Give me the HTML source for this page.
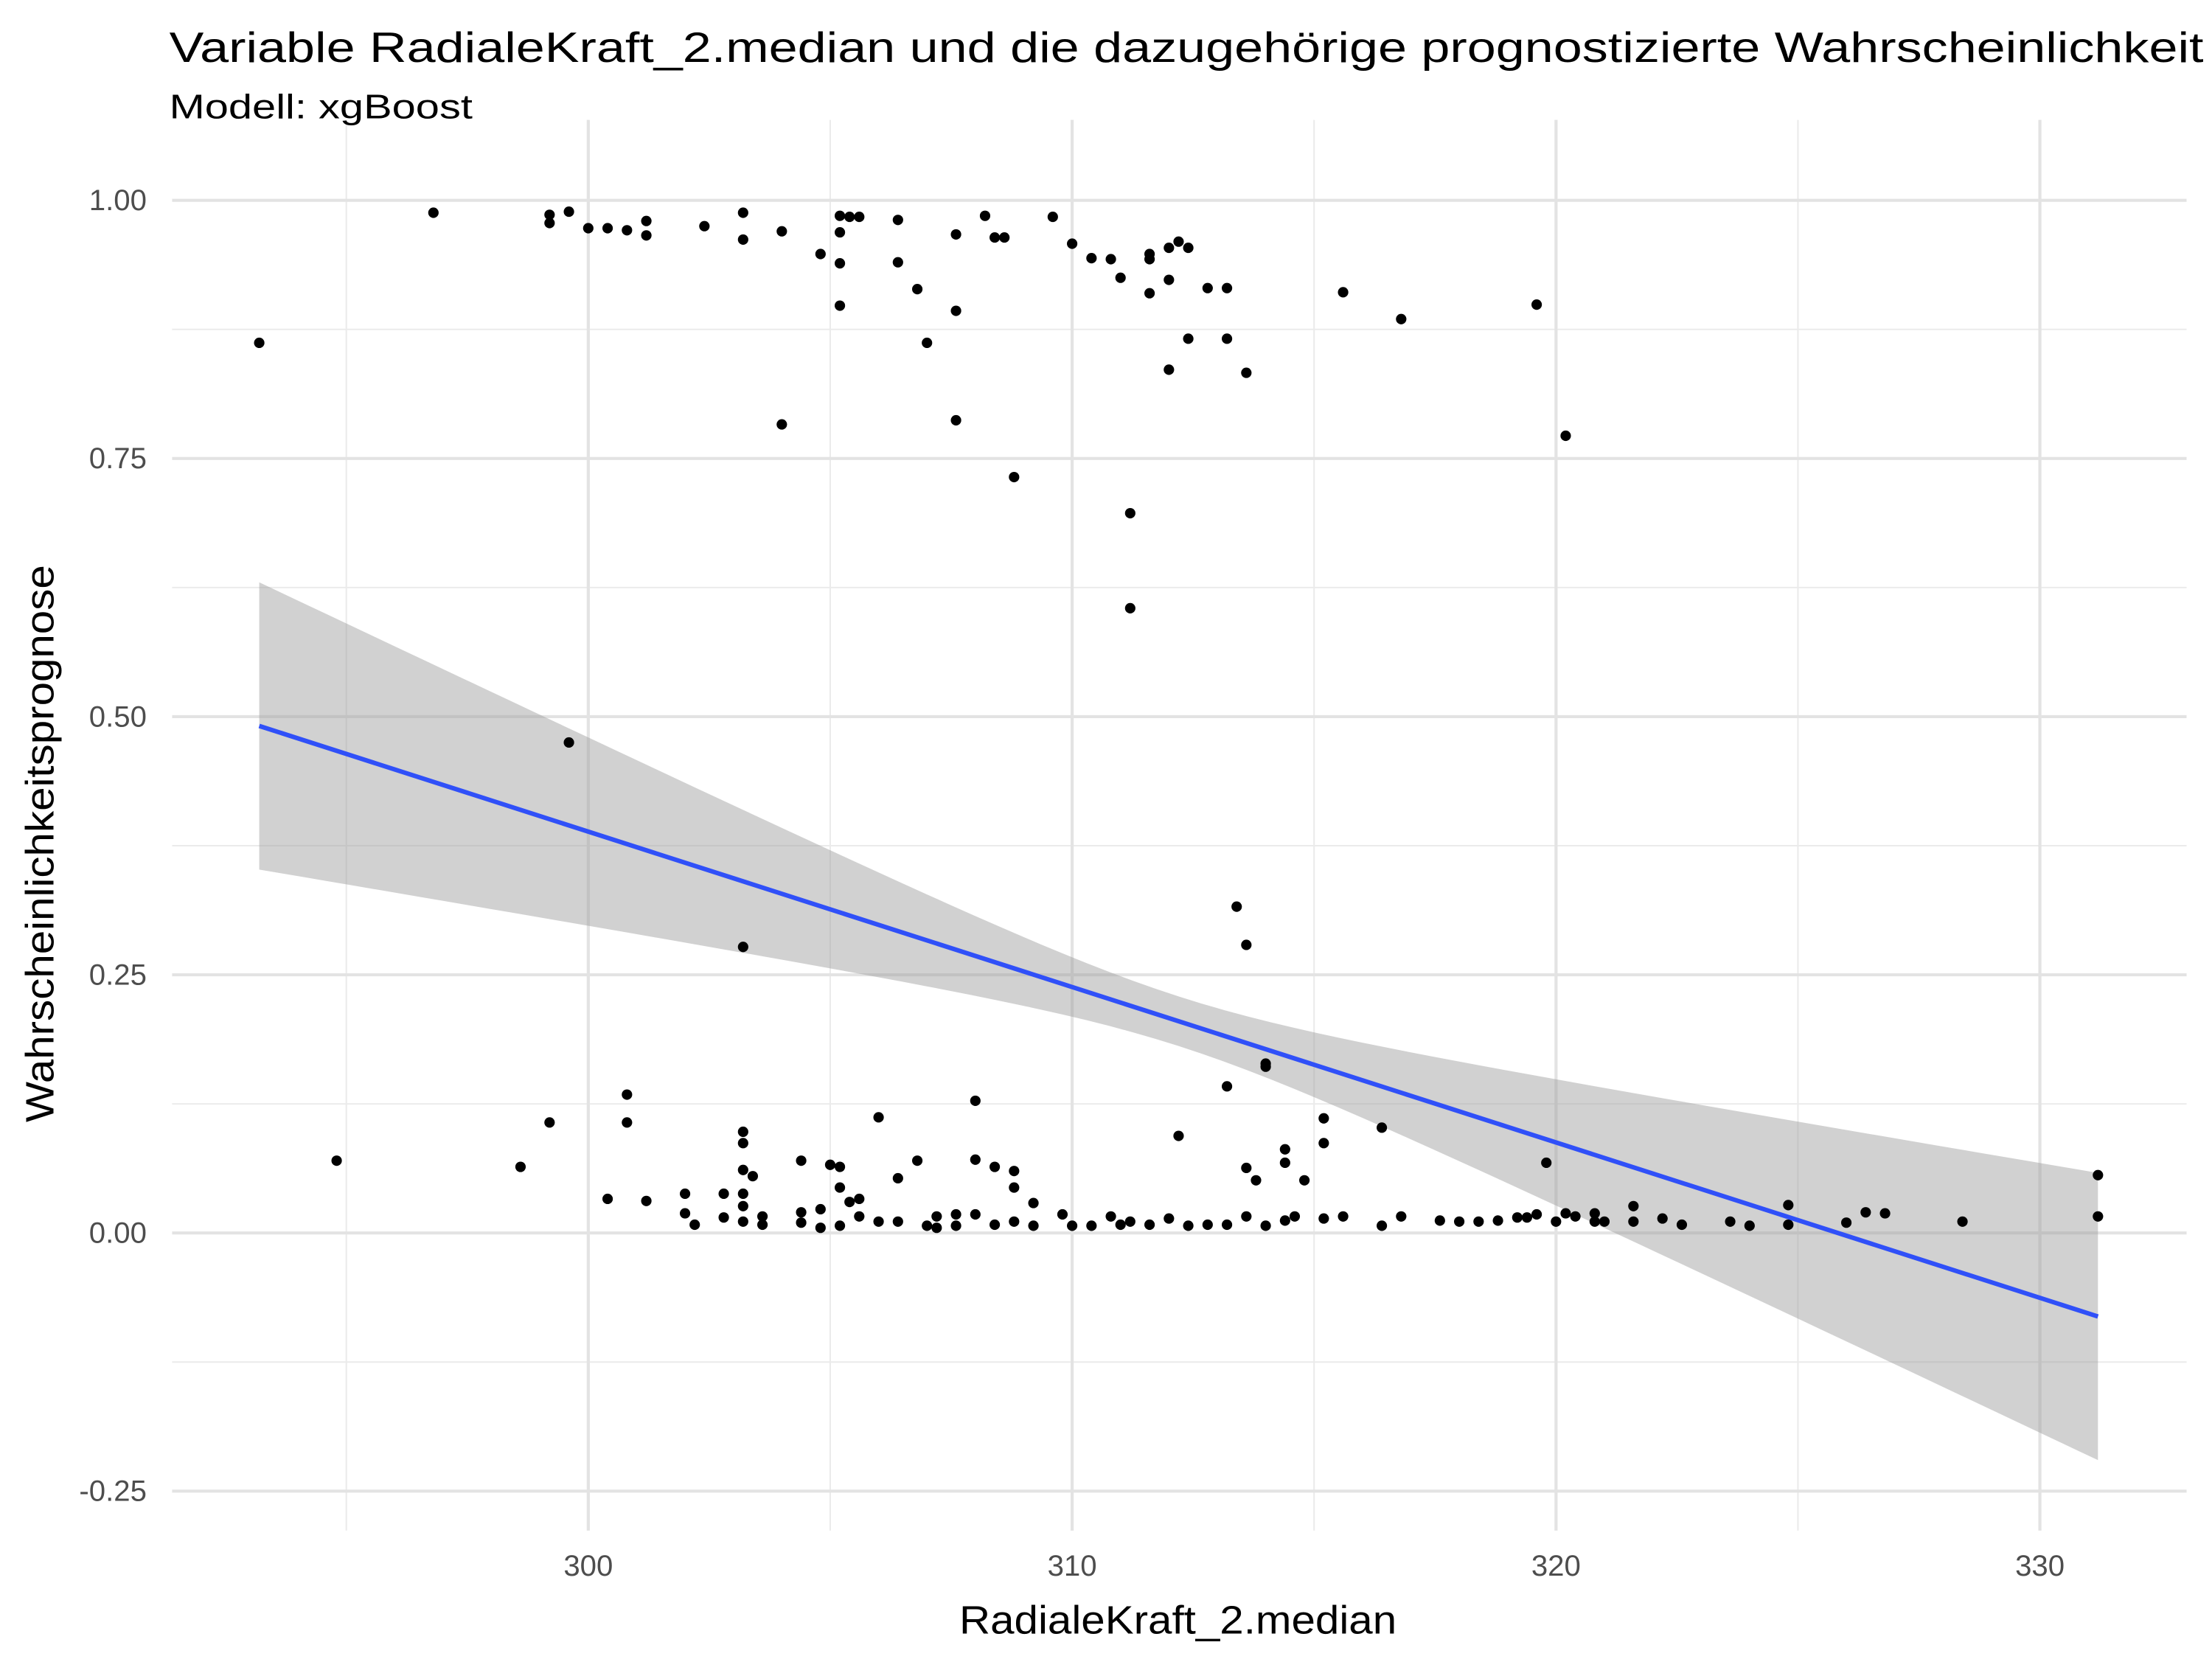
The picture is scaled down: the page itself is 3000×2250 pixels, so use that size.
<!DOCTYPE html>
<html><head><meta charset="utf-8"><style>
html,body{margin:0;padding:0;background:#fff}
svg{display:block;font-family:"Liberation Sans",sans-serif}
</style></head><body>
<svg id="chart" width="3000" height="2250" viewBox="0 0 1568 1176" xmlns="http://www.w3.org/2000/svg">
<rect width="1568" height="1176" fill="#fff"/>
<g id="grid"></g>
<g id="band"></g>
<g id="pts"></g>
<g id="axes"></g>
<text x="120" y="44" font-size="30" textLength="1442" lengthAdjust="spacingAndGlyphs" fill="#000">Variable RadialeKraft_2.median und die dazugehörige prognostizierte Wahrscheinlichkeit</text>
<text x="120" y="84" font-size="24" textLength="215" lengthAdjust="spacingAndGlyphs" fill="#000">Modell: xgBoost</text>
<text x="835" y="1158" font-size="28" textLength="310" lengthAdjust="spacingAndGlyphs" text-anchor="middle" fill="#000">RadialeKraft_2.median</text>
<text transform="translate(38,598) rotate(-90)" font-size="28" textLength="395" lengthAdjust="spacingAndGlyphs" text-anchor="middle" fill="#000">Wahrscheinlichkeitsprognose</text>
</svg>
<script>
const xTicks=[300,310,320,330];
const xMinor=[295,305,315,325];
const yTicks=[-0.25,0,0.25,0.5,0.75,1.0];
const yTickLabels=["-0.25","0.00","0.25","0.50","0.75","1.00"];
const yMinor=[-0.125,0.125,0.375,0.625,0.875];
const xVals=[293.2,296.8,299.2,299.2,299.6,300.0,300.4,300.8,301.2,301.2,302.4,303.2,303.2,304.0,304.8,305.2,305.2,305.2,305.2,305.4,305.6,306.4,306.4,306.8,307.0,307.6,307.6,307.6,308.2,308.4,308.6,308.8,309.6,310.0,310.4,310.8,311.0,311.2,311.2,311.6,311.6,311.6,312.0,312.0,312.0,312.2,312.4,312.4,312.8,313.2,313.2,313.6,315.6,316.8,319.6,320.2,304.0,
299.6,303.2,313.4,313.6,313.2,314.0,314.0,
294.8,298.6,299.2,300.4,300.8,300.8,301.2,302.0,302.0,302.2,302.8,302.8,303.2,303.2,303.2,303.2,303.2,303.2,303.4,303.6,303.6,304.4,304.4,304.4,304.8,304.8,305.0,305.2,305.2,305.2,305.4,305.6,305.6,306.0,306.0,306.4,306.4,306.8,307.0,307.2,307.2,307.6,307.6,308.0,308.0,308.0,308.4,308.8,308.8,308.4,308.8,309.2,309.2,309.8,310.0,310.4,310.8,311.0,311.2,311.6,312.0,312.2,312.4,312.8,313.2,313.6,313.6,313.8,314.0,314.4,314.4,314.4,314.6,314.8,315.2,315.2,315.2,315.6,316.4,316.4,316.8,317.6,318.0,318.4,318.8,319.2,319.4,319.6,319.8,320.0,320.2,320.4,320.8,320.8,321.0,321.6,321.6,322.2,322.6,323.6,324.0,324.8,324.8,326.0,326.4,326.8,328.4,331.2,331.2];
const yVals=[.862,.988,.986,.978,.989,.973,.973,.971,.980,.966,.975,.988,.962,.970,.948,.985,.969,.939,.898,.984,.984,.981,.940,.914,.862,.967,.893,.787,.985,.964,.964,.732,.984,.958,.944,.943,.925,.697,.605,.948,.943,.910,.954,.923,.836,.960,.954,.866,.915,.915,.866,.833,.911,.885,.899,.772,.783,
.475,.277,.316,.279,.142,.164,.161,
.070,.064,.107,.033,.134,.107,.031,.038,.019,.008,.038,.015,.098,.087,.061,.038,.026,.011,.055,.016,.008,.070,.020,.010,.023,.005,.066,.064,.044,.007,.030,.033,.016,.112,.011,.053,.011,.070,.007,.016,.005,.018,.007,.128,.071,.018,.064,.060,.044,.008,.011,.029,.007,.018,.007,.007,.016,.008,.011,.008,.014,.094,.007,.008,.008,.063,.016,.051,.007,.081,.012,.068,.016,.051,.111,.087,.014,.016,.102,.007,.016,.012,.011,.011,.012,.015,.015,.018,.068,.011,.019,.016,.019,.011,.011,.026,.011,.014,.008,.011,.007,.027,.008,.010,.020,.019,.011,.056,.016];
const fitIntercept=0.491, fitSlope=-0.01505, fitX0=293.2;
const seMin=0.024, seK=5.2e-5, seCenter=312.2;
const xRange=[293.2,331.2];

const NS="http://www.w3.org/2000/svg";
const X=v=>417+(v-300)*34.3;
const Y=v=>874-v*732;
const L=122,R=1550,T=85,B=1085;
function mk(t,a,p){const e=document.createElementNS(NS,t);for(const k in a)e.setAttribute(k,a[k]);p.appendChild(e);return e;}
const grid=document.getElementById('grid'),axes=document.getElementById('axes');
yMinor.forEach(v=>{const e=mk('line',{x1:L,x2:R,y1:Y(v),y2:Y(v),stroke:'#ebebeb','stroke-width':1.1},grid);

});
xMinor.forEach(v=>{const e=mk('line',{x1:X(v),x2:X(v),y1:T,y2:B,stroke:'#ebebeb','stroke-width':1.1},grid);

});
yTicks.forEach((v,i)=>{const e=mk('line',{x1:L,x2:R,y1:Y(v),y2:Y(v),stroke:'#e3e3e3','stroke-width':2.2},grid);


const t=mk('text',{x:104,y:Y(v)+7,'font-size':21,'text-anchor':'end',fill:'#4d4d4d'},axes);t.textContent=yTickLabels[i];

});
xTicks.forEach(v=>{const e=mk('line',{x1:X(v),x2:X(v),y1:T,y2:B,stroke:'#e3e3e3','stroke-width':2.2},grid);


const t=mk('text',{x:X(v),y:1117,'font-size':21,'text-anchor':'middle',fill:'#4d4d4d'},axes);t.textContent=String(v);

});
const band=document.getElementById('band');
const fit=x=>fitIntercept+fitSlope*(x-fitX0);
const se=x=>Math.sqrt(seMin*seMin+seK*(x-seCenter)*(x-seCenter));
let up=[],lo=[];
for(let i=0;i<=80;i++){const x=xRange[0]+(xRange[1]-xRange[0])*i/80;up.push(X(x)+','+Y(fit(x)+se(x)));lo.unshift(X(x)+','+Y(fit(x)-se(x)));}
const poly=mk('polygon',{points:up.concat(lo).join(' '),fill:'#999','fill-opacity':0.45},band);


const pts=document.getElementById('pts');
xVals.forEach((x,i)=>{const c=mk('circle',{cx:X(x),cy:Y(yVals[i]),r:3.7,fill:'#000'},pts);

});
const ln=mk('line',{x1:X(xRange[0]),y1:Y(fit(xRange[0])),x2:X(xRange[1]),y2:Y(fit(xRange[1])),stroke:'#3050f8','stroke-width':3.2},pts);


</script>
</body></html>
